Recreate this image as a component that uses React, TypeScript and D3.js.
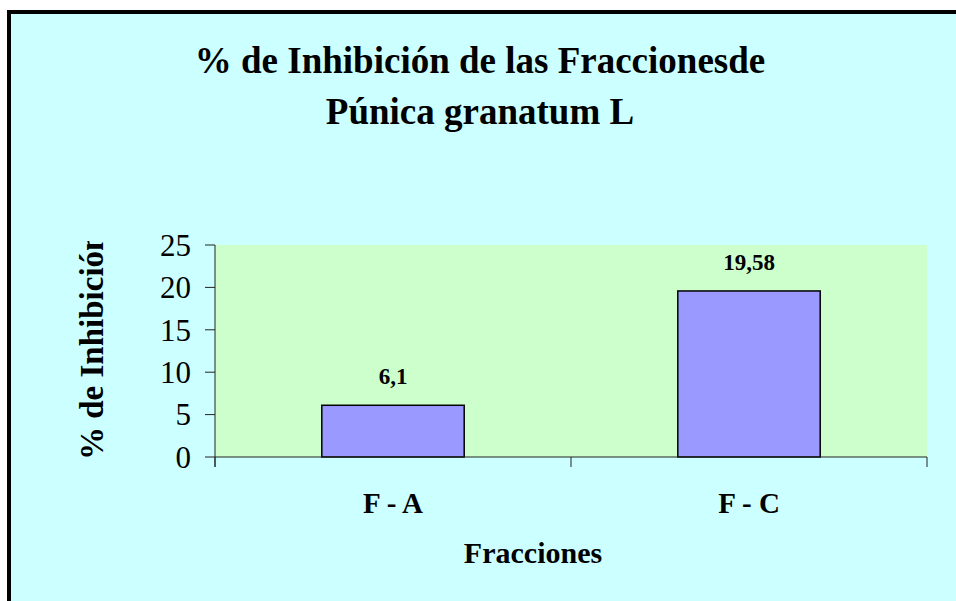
import React from "react";
import * as d3 from "d3";

const categories = ["F - A", "F - C"];
const values = [6.1, 19.58];
const valueLabels = ["6,1", "19,58"];
const yTicks = [0, 5, 10, 15, 20, 25];
const titleLines = ["% de Inhibición de las Fraccionesde", "Púnica granatum L"];
const yTitle = "% de Inhibición";
const xTitle = "Fracciones";

const W = 956;
const H = 601;
const plot = { left: 215, right: 927, top: 245, bottom: 457 };
const FONT = "'Liberation Serif', 'Times New Roman', serif";

export default function App() {
  const y = d3.scaleLinear().domain([0, 25]).range([plot.bottom, plot.top]);
  const xCat = d3.scaleBand<string>().domain(categories).range([plot.left, plot.right]).padding(0);
  const xBar = d3
    .scaleBand<string>()
    .domain(categories)
    .range([plot.left, plot.right])
    .paddingInner(0.6)
    .paddingOuter(0.3);
  const catEdges = [plot.left, ...categories.map((c) => (xCat(c) as number) + xCat.bandwidth())];

  return (
    <svg
      width={W}
      height={H}
      style={{ position: "absolute", left: 0, top: 0, display: "block" }}
      fontFamily={FONT}
    >
      <defs>
        <clipPath id="ytclip">
          <rect x={0} y={241} width={200} height={400} />
        </clipPath>
      </defs>
      <rect x={0} y={0} width={W} height={H} fill="#ffffff" />
      <rect x={9} y={12} width={W + 20} height={H + 20} fill="#CCFFFF" stroke="#000" strokeWidth={4} />

      {/* Title */}
      {titleLines.map((t, i) => (
        <text key={i} x={480} y={73 + i * 51} textAnchor="middle" fontSize={37} fontWeight="bold" fill="#000">
          {t}
        </text>
      ))}

      {/* Plot area */}
      <rect
        x={plot.left}
        y={plot.top}
        width={plot.right - plot.left}
        height={plot.bottom - plot.top}
        fill="#CCFFCC"
      />

      {/* Bars */}
      {categories.map((c, i) => (
        <g key={c}>
          <rect
            x={xBar(c)}
            y={y(values[i])}
            width={xBar.bandwidth()}
            height={plot.bottom - y(values[i])}
            fill="#9999FF"
            stroke="#000"
            strokeWidth={1.5}
          />
          <text
            x={(xBar(c) as number) + xBar.bandwidth() / 2}
            y={y(values[i]) - 21}
            textAnchor="middle"
            fontSize={23}
            fontWeight="bold"
          >
            {valueLabels[i]}
          </text>
          <text
            x={(xCat(c) as number) + xCat.bandwidth() / 2}
            y={513}
            textAnchor="middle"
            fontSize={29}
            fontWeight="bold"
          >
            {c}
          </text>
        </g>
      ))}

      {/* Y axis */}
      <line x1={plot.left} x2={plot.left} y1={plot.top} y2={plot.bottom + 10} stroke="#222" strokeWidth={1} />
      {yTicks.map((t) => (
        <g key={t}>
          <line x1={plot.left - 10} x2={plot.left} y1={y(t)} y2={y(t)} stroke="#222" strokeWidth={1} />
          <text x={191} y={y(t)} dy="0.35em" textAnchor="end" fontSize={31} fill="#000">
            {t}
          </text>
        </g>
      ))}

      {/* X axis */}
      <line x1={plot.left} x2={plot.right} y1={plot.bottom} y2={plot.bottom} stroke="#222" strokeWidth={1} />
      {catEdges.map((e, i) => (
        <line key={i} x1={e} x2={e} y1={plot.bottom} y2={plot.bottom + 10} stroke="#222" strokeWidth={1} />
      ))}

      {/* Axis titles */}
      <g clipPath="url(#ytclip)">
        <text
          transform="translate(103, 460) rotate(-90)"
          textAnchor="start"
          fontSize={33}
          fontWeight="bold"
        >
          {yTitle}
        </text>
      </g>
      <text x={533} y={563} textAnchor="middle" fontSize={30} fontWeight="bold">
        {xTitle}
      </text>
    </svg>
  );
}
